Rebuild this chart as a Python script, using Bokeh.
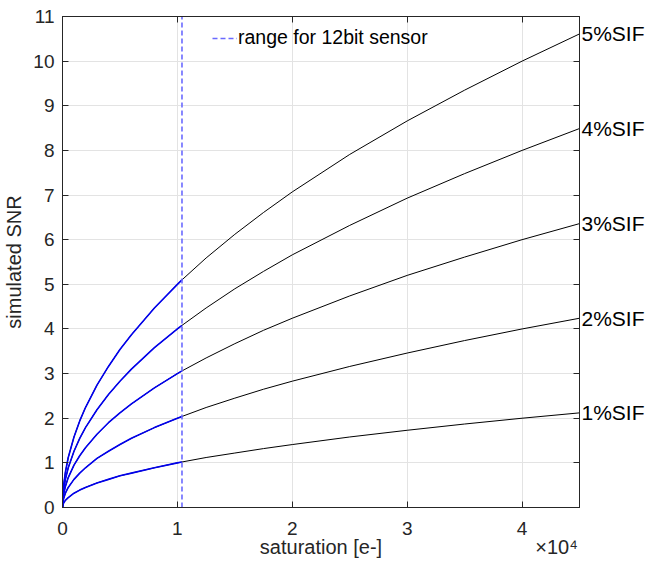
from bokeh.plotting import figure
from bokeh.models import (LinearAxis, Range1d, Legend, LegendItem,
                          FixedTicker, CustomJSTickFormatter)
from bokeh.embed import file_html
from bokeh.resources import INLINE

# ---- data ----
saturation = [0, 25, 100, 250, 500, 1000, 1500, 2000, 3000, 4000, 5000, 6000,
              8000, 10000, 10400, 12500, 15000, 17500, 20000, 25000, 30000,
              35000, 40000, 45000]
snr_1 = [0, 0.05, 0.10, 0.16, 0.22, 0.32, 0.39, 0.45, 0.55, 0.63, 0.71, 0.77,
         0.89, 1.00, 1.02, 1.12, 1.22, 1.32, 1.41, 1.58, 1.73, 1.87, 2.00, 2.12]
snr_2 = [0, 0.10, 0.20, 0.32, 0.45, 0.63, 0.77, 0.89, 1.10, 1.26, 1.41, 1.55,
         1.79, 2.00, 2.04, 2.24, 2.45, 2.65, 2.83, 3.16, 3.46, 3.74, 4.00, 4.24]
snr_3 = [0, 0.15, 0.30, 0.47, 0.67, 0.95, 1.16, 1.34, 1.64, 1.90, 2.12, 2.32,
         2.68, 3.00, 3.06, 3.35, 3.67, 3.97, 4.24, 4.74, 5.20, 5.61, 6.00, 6.36]
snr_4 = [0, 0.20, 0.40, 0.63, 0.89, 1.26, 1.55, 1.79, 2.19, 2.53, 2.83, 3.10,
         3.58, 4.00, 4.08, 4.47, 4.90, 5.29, 5.66, 6.32, 6.93, 7.48, 8.00, 8.49]
snr_5 = [0, 0.25, 0.50, 0.79, 1.12, 1.58, 1.94, 2.24, 2.74, 3.16, 3.54, 3.87,
         4.47, 5.00, 5.10, 5.59, 6.12, 6.61, 7.07, 7.91, 8.66, 9.35, 10.00, 10.61]
series_labels = ["1%SIF", "2%SIF", "3%SIF", "4%SIF", "5%SIF"]
sensor_limit = 10400          # saturation reachable with the 12bit sensor
legend_text = "range for 12bit sensor"
x_ticks = [0, 10000, 20000, 30000, 40000]
x_tick_labels = ["0", "1", "2", "3", "4"]
y_ticks = list(range(0, 12))
x_label = "saturation [e-]"
x_exponent = "×10⁴"
y_label = "simulated SNR"
x_max = 45000
y_max = 11

FONT = "Liberation Sans"
TXT = "#262626"

p = figure(width=648, height=574, output_backend="svg", toolbar_location=None,
           x_range=Range1d(0, x_max), y_range=Range1d(0, y_max),
           min_border_left=62, min_border_right=69, min_border_top=16,
           min_border_bottom=67)
p.outline_line_color = TXT
p.outline_line_width = 1
p.background_fill_color = "white"
p.border_fill_color = "white"

for g in (p.xgrid, p.ygrid):
    g.grid_line_color = "#e3e3e3"
    g.grid_line_width = 1
p.xgrid.ticker = FixedTicker(ticks=x_ticks)
p.ygrid.ticker = FixedTicker(ticks=y_ticks)

def style_axis(ax, ticks, show_labels=True):
    ax.ticker = FixedTicker(ticks=ticks)
    ax.axis_line_color = TXT
    ax.major_tick_line_color = TXT
    ax.major_tick_in = 6
    ax.major_tick_out = 0
    ax.minor_tick_line_color = None
    ax.major_label_text_font = FONT
    ax.major_label_text_font_size = "19px"
    ax.major_label_text_color = TXT
    ax.axis_label_text_font = FONT
    ax.axis_label_text_font_size = "20px"
    ax.axis_label_text_font_style = "normal"
    ax.axis_label_text_color = TXT
    if not show_labels:
        ax.formatter = CustomJSTickFormatter(code="return ''")
        ax.major_label_standoff = 0
        ax.axis_label_standoff = 0

xa = p.xaxis[0]
style_axis(xa, x_ticks)
xa.major_label_overrides = {t: l for t, l in zip(x_ticks, x_tick_labels)}
xa.major_label_standoff = 14

# second row under the x axis: axis title and the exponent on one line
x_label_row = LinearAxis()
x_label_row.ticker = FixedTicker(ticks=[x_max / 2, x_max - 2000])
x_label_row.major_label_overrides = {x_max / 2: x_label, x_max - 2000: x_exponent}
x_label_row.axis_line_color = None
x_label_row.major_tick_line_color = None
x_label_row.minor_tick_line_color = None
x_label_row.major_tick_in = 0
x_label_row.major_tick_out = 0
x_label_row.major_label_standoff = -2
x_label_row.major_label_text_font = FONT
x_label_row.major_label_text_font_size = "20px"
x_label_row.major_label_text_color = TXT
p.add_layout(x_label_row, "below")

ya = p.yaxis[0]
style_axis(ya, y_ticks)
ya.major_label_standoff = 8
ya.axis_label = y_label
ya.axis_label_standoff = 5

top = LinearAxis()
style_axis(top, x_ticks, show_labels=False)
p.add_layout(top, "above")
right = LinearAxis()
style_axis(right, y_ticks, show_labels=False)
p.add_layout(right, "right")

# curves
all_series = [snr_1, snr_2, snr_3, snr_4, snr_5]
n_in = sum(1 for s in saturation if s <= sensor_limit)
for s in all_series:
    p.line(saturation, s, line_color="black", line_width=1)
for s in all_series:
    p.line(saturation[:n_in], s[:n_in], line_color="#0000ee", line_width=1.6)

vr = p.line([sensor_limit, sensor_limit], [0, y_max], line_color="#6a6aff",
            line_width=1.6, line_dash="5 3")

legend = Legend(items=[LegendItem(label=legend_text, renderers=[vr])],
                location=(150, 458), orientation="vertical",
                border_line_alpha=0, background_fill_alpha=0,
                label_text_font=FONT, label_text_font_size="19.5px",
                label_text_color="black", glyph_width=25, glyph_height=18,
                label_height=18, label_standoff=1, padding=0, margin=0,
                spacing=0)
p.add_layout(legend)

# curve names at the right end, as labels of a right-hand axis
ends = [s[-1] for s in all_series]
end_axis = LinearAxis()
end_axis.ticker = FixedTicker(ticks=ends)
end_axis.major_label_overrides = {e: t for e, t in zip(ends, series_labels)}
end_axis.axis_line_color = None
end_axis.major_tick_line_color = None
end_axis.minor_tick_line_color = None
end_axis.major_tick_in = 0
end_axis.major_tick_out = 0
end_axis.major_label_standoff = 2
end_axis.major_label_text_font = FONT
end_axis.major_label_text_font_size = "21px"
end_axis.major_label_text_color = "black"
p.add_layout(end_axis, "right")

open("out.html", "w").write(file_html(p, INLINE))
